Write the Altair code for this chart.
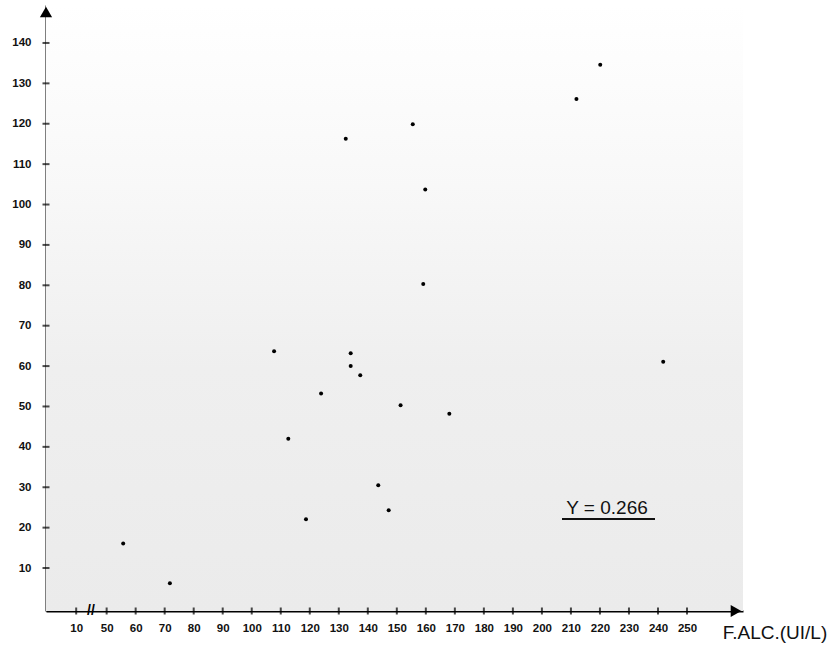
import altair as alt
import pandas as pd

# ---- data ----
x_vals = [55.7, 71.8, 107.7, 112.6, 118.7, 123.9, 132.4, 134.1, 134.1, 137.4,
          143.6, 147.2, 151.3, 155.5, 159.1, 159.8, 168.1, 211.9, 220.1, 241.8]
y_vals = [16.1, 6.2, 63.7, 42.0, 22.1, 53.2, 116.3, 63.2, 60.0, 57.7,
          30.5, 24.3, 50.3, 119.9, 80.3, 103.7, 48.2, 126.1, 134.6, 61.1]

# the first x tick ("10") sits before the axis break
x_tick_pos = [39.5, 50, 60, 70, 80, 90, 100, 110, 120, 130, 140, 150, 160,
              170, 180, 190, 200, 210, 220, 230, 240, 250]
x_tick_labels = ["10", "50", "60", "70", "80", "90", "100", "110", "120", "130",
                 "140", "150", "160", "170", "180", "190", "200", "210", "220",
                 "230", "240", "250"]
y_ticks = [10, 20, 30, 40, 50, 60, 70, 80, 90, 100, 110, 120, 130, 140]

x_title = "F.ALC.(UI/L)"
annotation = "Y = 0.266"

X_DOMAIN = [29.1, 269.3]
Y_DOMAIN = [-0.64, 149.4]
W, H = 697, 606
FONT = "Liberation Sans"

pts = pd.DataFrame({"x": x_vals, "y": y_vals})
xt = pd.DataFrame({"x": x_tick_pos, "label": x_tick_labels})
yt = pd.DataFrame({"y": y_ticks})
one = pd.DataFrame({"a": [0]})

xs = alt.Scale(domain=X_DOMAIN, nice=False, zero=False)
ys = alt.Scale(domain=Y_DOMAIN, nice=False, zero=False)

label_expr = "datum.value < 45 ? '10' : datum.label"

X_AXIS = alt.Axis(values=x_tick_pos, labelExpr=label_expr, format="d",
                  title=None, grid=False, ticks=False, tickSize=0,
                  domain=True, domainColor="#000", domainWidth=2,
                  labelFont=FONT, labelFontSize=11.5, labelFontWeight="bold",
                  labelColor="#111", labelPadding=11, labelOverlap=False,
                  labelFlush=False, labelBound=False)
Y_AXIS = alt.Axis(values=y_ticks, format="d", title=None, grid=False,
                  ticks=False, tickSize=0, domain=True, domainColor="#000",
                  domainWidth=2, labelFont=FONT, labelFontSize=11.5,
                  labelFontWeight="bold", labelColor="#111",
                  labelPadding=15, labelOverlap=False, labelFlush=False,
                  labelBound=False)

bg = alt.Chart(one).mark_rect(
    fill=alt.LinearGradient(
        gradient="linear", x1=0, y1=0, x2=0, y2=1,
        stops=[alt.GradientStop(offset=0, color="#ffffff"),
               alt.GradientStop(offset=0.3, color="#f8f8f8"),
               alt.GradientStop(offset=0.6, color="#efefef"),
               alt.GradientStop(offset=1, color="#ebebeb")]),
).encode(x=alt.value(0), x2=alt.value(W), y=alt.value(0), y2=alt.value(H))

points = alt.Chart(pts).mark_circle(size=16, color="#000000", opacity=1).encode(
    x=alt.X("x:Q", scale=xs, axis=X_AXIS),
    y=alt.Y("y:Q", scale=ys, axis=Y_AXIS),
)

xticks = alt.Chart(xt).mark_tick(orient="vertical", size=7, thickness=2,
                                  color="#000").encode(
    x=alt.X("x:Q", scale=xs, axis=X_AXIS),
    y=alt.datum(Y_DOMAIN[0], scale=ys, axis=Y_AXIS),
)
yticks = alt.Chart(yt).mark_tick(orient="horizontal", size=7, thickness=2,
                                  color="#000").encode(
    y=alt.Y("y:Q", scale=ys, axis=Y_AXIS),
    x=alt.datum(X_DOMAIN[0], scale=xs, axis=X_AXIS),
)

arrow_up = alt.Chart(one).mark_point(shape="triangle-up", filled=True, size=150,
                                     color="#000", opacity=1).encode(
    x=alt.value(0), y=alt.value(7))
arrow_right = alt.Chart(one).mark_point(shape="triangle-right", filled=True,
                                        size=150, color="#000", opacity=1).encode(
    x=alt.value(W - 7), y=alt.value(H))

brk = alt.Chart(one).mark_text(text="//", font=FONT, fontSize=14,
                               fontWeight="bold", color="#000").encode(
    x=alt.value(45), y=alt.value(H))

title = alt.Chart(one).mark_text(text=x_title, font=FONT, fontSize=19,
                                 color="#111", align="center",
                                 baseline="middle").encode(
    x=alt.value(729), y=alt.value(628))

annot = alt.Chart(one).mark_text(text=annotation, font=FONT, fontSize=19,
                                 color="#111", align="center",
                                 baseline="alphabetic").encode(
    x=alt.value(561), y=alt.value(509))
underline = alt.Chart(one).mark_rule(color="#111", strokeWidth=2).encode(
    x=alt.value(516), x2=alt.value(609), y=alt.value(514))

chart = alt.layer(bg, points, xticks, yticks, arrow_up, arrow_right, brk,
                  title, annot, underline).properties(
    width=W, height=H,
    autosize=alt.AutoSizeParams(type="none"),
    padding={"left": 46, "top": 5, "right": 94, "bottom": 36},
    background="#ffffff",
).configure_view(stroke=None)

chart.save("out.html", embed_options={"renderer": "svg", "actions": False})
